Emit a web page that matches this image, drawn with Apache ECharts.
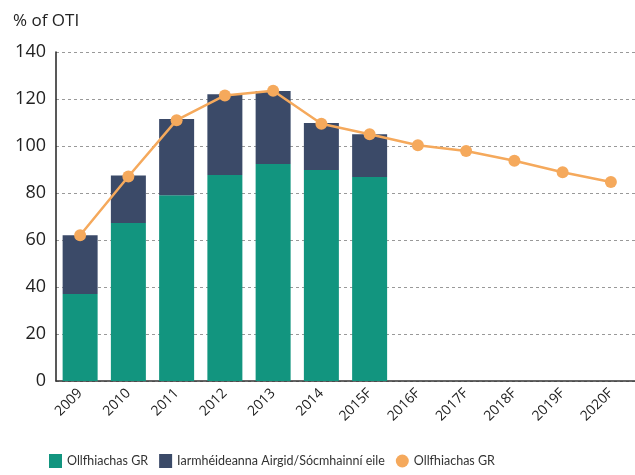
<!DOCTYPE html>
<html>
<head>
<meta charset="utf-8">
<script src="https://cdn.jsdelivr.net/npm/echarts@6/dist/echarts.min.js"></script>
<style>
html,body{margin:0;padding:0;background:#fff;}
#chart{width:635px;height:475px;}
</style>
</head>
<body>
<div id="chart"></div>
<script>
var years=['2009','2010','2011','2012','2013','2014','2015F','2016F','2017F','2018F','2019F','2020F'];
var grDebt=[37,67.2,79,87.7,92.3,89.8,86.8,null,null,null,null,null];
var otherAssets=[25,20.3,32.5,34.3,31.1,20,18.2,null,null,null,null,null];
var grLine=[62,87,111,121.5,123.5,109.5,105,100.3,97.9,93.7,88.8,84.7];

var font='"Open Sans", sans-serif';
var chart=echarts.init(document.getElementById('chart'));
chart.setOption({
  animation:false,
  textStyle:{fontFamily:font},
  title:{
    text:'% of OTI',left:8,top:8,
    textStyle:{fontFamily:font,fontSize:17,fontWeight:'normal',color:'#222'}
  },
  grid:{left:56,right:-3,top:52,bottom:94},
  legend:{
    bottom:2,left:44,
    itemGap:11,
    itemWidth:13,itemHeight:14,
    textStyle:{fontFamily:'Lato, sans-serif',fontSize:12.5,color:'#333'},
    data:[
      {name:'Ollfhiachas GR',icon:'rect'},
      {name:'Iarmhéideanna Airgid/Sócmhainní eile',icon:'rect'},
      {name:'Ollfhiachas GR ',icon:'circle'}
    ]
  },
  xAxis:{
    type:'category',data:years,
    axisLine:{lineStyle:{color:'#333',width:1.5}},
    axisTick:{show:false},
    axisLabel:{rotate:45,fontSize:14,color:'#222',margin:10,fontFamily:font}
  },
  yAxis:{
    type:'value',min:0,max:140,interval:20,
    axisLine:{show:true,lineStyle:{color:'#222',width:1.5}},
    axisTick:{show:false},
    axisLabel:{fontSize:18,color:'#222',margin:10,fontFamily:font},
    splitLine:{lineStyle:{type:[3,3],color:'#999'}}
  },
  series:[
    {name:'Ollfhiachas GR',type:'bar',stack:'a',data:grDebt,barWidth:35,
      itemStyle:{color:'#12957f'}},
    {name:'Iarmhéideanna Airgid/Sócmhainní eile',type:'bar',stack:'a',data:otherAssets,barWidth:35,
      itemStyle:{color:'#3b4a68'}},
    {name:'Ollfhiachas GR ',type:'line',data:grLine,symbol:'circle',symbolSize:12,
      lineStyle:{color:'#f5a95c',width:2.5},itemStyle:{color:'#f5a95c'}}
  ]
});
</script>
</body>
</html>
